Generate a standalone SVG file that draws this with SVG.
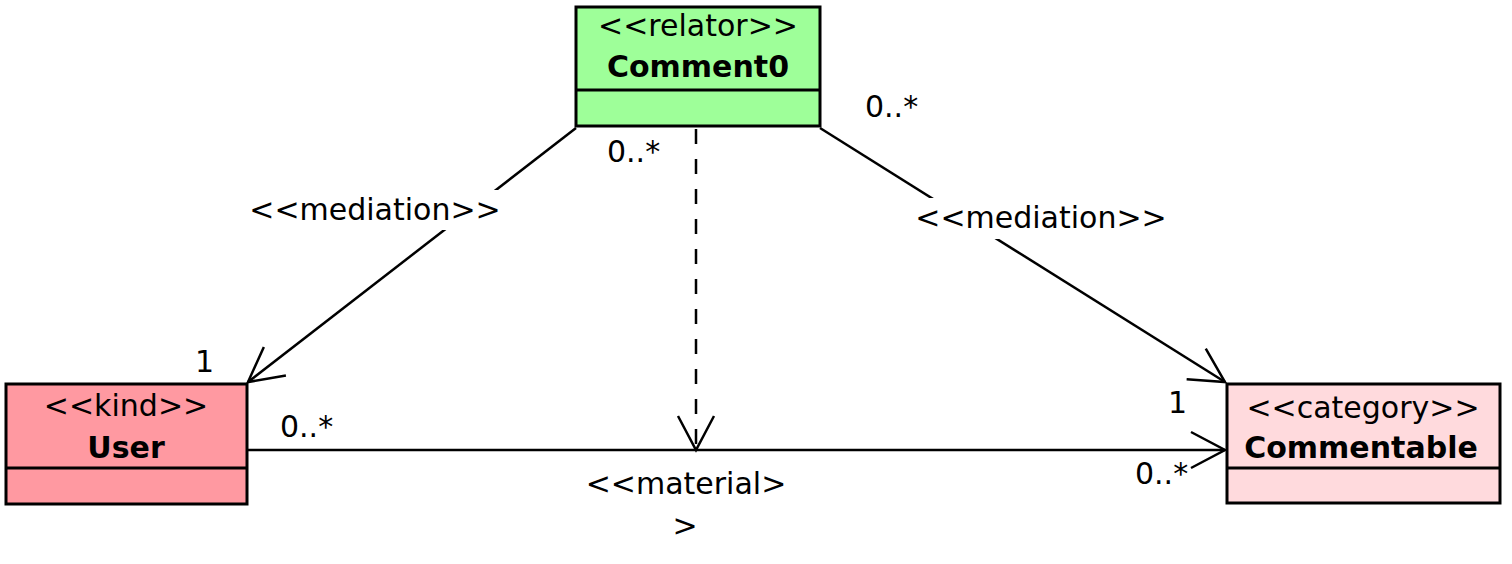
<svg xmlns="http://www.w3.org/2000/svg" width="1512" height="564" viewBox="0 0 1512 564">
<style>
text{font-family:"DejaVu Sans","Liberation Sans",sans-serif;font-size:30px;fill:#000}
.b{font-weight:bold}
.c{text-anchor:middle}
.box{stroke:#000;stroke-width:3}
.ln{fill:none;stroke:#000;stroke-width:2.5}
.dash{stroke-dasharray:15 15}
</style>
<defs>
<marker id="open" markerUnits="userSpaceOnUse" markerWidth="60" markerHeight="60" refX="0" refY="0" viewBox="-40 -30 50 60" orient="auto" overflow="visible">
<path d="M-34,-18 L0,0 L-34,18" fill="none" stroke="#000" stroke-width="2.5" stroke-dasharray="none"/>
</marker>
</defs>
<rect width="1512" height="564" fill="#fff"/>
<g id="connectors">
<line class="ln" x1="576" y1="128" x2="248" y2="382" marker-end="url(#open)"/>
<line class="ln" x1="820" y1="128" x2="1225" y2="382" marker-end="url(#open)"/>
<line class="ln" x1="248" y1="450" x2="1225" y2="450" marker-end="url(#open)"/>
<line class="ln dash" x1="696" y1="129" x2="696" y2="450" marker-end="url(#open)"/>
<rect x="245" y="190" width="260" height="40" fill="#fff"/>
<text x="375" y="220" class="c">&lt;&lt;mediation&gt;&gt;</text>
<rect x="910" y="198" width="264" height="41" fill="#fff"/>
<text x="1041" y="228" class="c">&lt;&lt;mediation&gt;&gt;</text>
<text x="686" y="494" class="c">&lt;&lt;material&gt;</text>
<text x="685" y="536" class="c">&gt;</text>
<text x="195" y="372">1</text>
<text x="280" y="437">0..*</text>
<text x="1168" y="413">1</text>
<text x="1135" y="484">0..*</text>
<text x="607" y="162">0..*</text>
<text x="865" y="117">0..*</text>
</g>
<g id="Comment0">
<rect class="box" x="576" y="7" width="244" height="119" fill="#9EFF99"/>
<line class="box" x1="576" y1="90" x2="820" y2="90"/>
<text x="698" y="36" class="c">&lt;&lt;relator&gt;&gt;</text>
<text x="698" y="77" class="c b">Comment0</text>
</g>
<g id="User">
<rect class="box" x="6" y="384" width="241" height="120" fill="#FF99A1"/>
<line class="box" x1="6" y1="468" x2="247" y2="468"/>
<text x="126" y="416" class="c">&lt;&lt;kind&gt;&gt;</text>
<text x="126" y="458" class="c b">User</text>
</g>
<g id="Commentable">
<rect class="box" x="1227" y="384" width="273" height="119" fill="#FFDADD"/>
<line class="box" x1="1227" y1="468" x2="1500" y2="468"/>
<text x="1363" y="418" class="c">&lt;&lt;category&gt;&gt;</text>
<text x="1361" y="458" class="c b">Commentable</text>
</g>
</svg>
